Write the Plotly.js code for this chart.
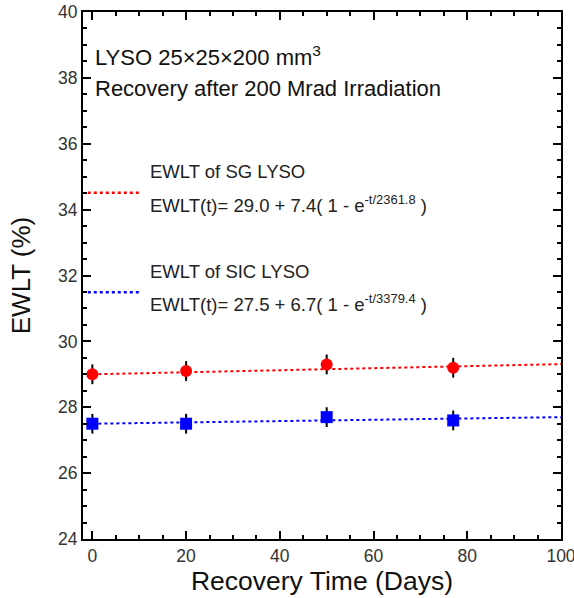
<!DOCTYPE html>
<html><head><meta charset="utf-8">
<script src="https://cdn.plot.ly/plotly-3.0.1.min.js"></script>
<style>html,body{margin:0;padding:0;background:#fff}</style>
</head><body><div id="chart" style="width:574px;height:598px"></div>
<script>
const days = [0, 20, 50, 77];
const sgEWLT = [29.0, 29.1, 29.3, 29.2];
const sgErr = [0.3, 0.3, 0.3, 0.3];
const sicEWLT = [27.5, 27.5, 27.7, 27.6];
const sicErr = [0.3, 0.3, 0.3, 0.3];
const fitDays = [0, 100];
const sgFit = [29.0, 29.31];
const sicFit = [27.5, 27.7];

const font = 'Arial, "Liberation Sans", sans-serif';
const traces = [
  {x: fitDays, y: sgFit, mode: 'lines', line: {color: '#ff0000', dash: 'dot', width: 2}, hoverinfo: 'skip'},
  {x: fitDays, y: sicFit, mode: 'lines', line: {color: '#0000ff', dash: 'dot', width: 2}, hoverinfo: 'skip'},
  {x: days, y: sgEWLT, mode: 'markers', marker: {symbol: 'circle', size: 12, color: '#ff0000'},
   error_y: {type: 'data', array: sgErr, color: '#000', thickness: 2, width: 0}},
  {x: days, y: sicEWLT, mode: 'markers', marker: {symbol: 'square', size: 12, color: '#0000ff'},
   error_y: {type: 'data', array: sicErr, color: '#000', thickness: 2, width: 0}}
];
const axisCommon = {
  showgrid: false, zeroline: false, showline: true, linecolor: '#000', linewidth: 2,
  mirror: 'ticks', ticks: 'inside', ticklen: 8, tickwidth: 2, tickcolor: '#000',
  ticklabeloverflow: 'allow',
  tickfont: {family: font, size: 17.5, color: '#333'}
};
const layout = {
  width: 574, height: 598,
  margin: {l: 83, r: 13, t: 12, b: 59},
  showlegend: false,
  paper_bgcolor: '#fff', plot_bgcolor: '#fff',
  xaxis: Object.assign({}, axisCommon, {
    range: [-2, 100], tickvals: [0, 20, 40, 60, 80, 100],
    minor: {dtick: 5, tick0: 0, ticks: 'inside', ticklen: 4, tickwidth: 2, tickcolor: '#000'},
    title: {text: 'Recovery Time (Days)', font: {family: font, size: 26.5, color: '#111'}, standoff: 6}
  }),
  yaxis: Object.assign({}, axisCommon, {
    range: [24, 40], tickvals: [24, 26, 28, 30, 32, 34, 36, 38, 40],
    minor: {dtick: 0.5, tick0: 24, ticks: 'inside', ticklen: 4, tickwidth: 2, tickcolor: '#000'},
    title: {text: 'EWLT (%)', font: {family: font, size: 26, color: '#111'}, standoff: 20}
  }),
  shapes: [
    {type: 'line', xref: 'paper', yref: 'paper', x0: 0.01, x1: 0.12, y0: 0.657, y1: 0.657, line: {color: '#ff0000', dash: 'dot', width: 2.5}},
    {type: 'line', xref: 'paper', yref: 'paper', x0: 0.01, x1: 0.12, y0: 0.468, y1: 0.468, line: {color: '#0000ff', dash: 'dot', width: 2.5}}
  ],
  annotations: [
    {xref: 'paper', yref: 'paper', x: 0.02, y: 0.917, xanchor: 'left', yanchor: 'middle', showarrow: false,
     text: 'LYSO 25×25×200 mm<sup>3</sup>', font: {family: font, size: 22, color: '#111'}},
    {xref: 'paper', yref: 'paper', x: 0.02, y: 0.855, xanchor: 'left', yanchor: 'middle', showarrow: false,
     text: 'Recovery after 200 Mrad Irradiation', font: {family: font, size: 22, color: '#111'}},
    {xref: 'paper', yref: 'paper', x: 0.136, y: 0.697, xanchor: 'left', yanchor: 'middle', showarrow: false,
     text: 'EWLT of SG LYSO', font: {family: font, size: 18.5, color: '#222'}},
    {xref: 'paper', yref: 'paper', x: 0.136, y: 0.635, xanchor: 'left', yanchor: 'middle', showarrow: false,
     text: 'EWLT(t)= 29.0 + 7.4( 1 - e<sup>-t/2361.8</sup> )', font: {family: font, size: 18.5, color: '#222'}},
    {xref: 'paper', yref: 'paper', x: 0.136, y: 0.507, xanchor: 'left', yanchor: 'middle', showarrow: false,
     text: 'EWLT of SIC LYSO', font: {family: font, size: 18.5, color: '#222'}},
    {xref: 'paper', yref: 'paper', x: 0.136, y: 0.447, xanchor: 'left', yanchor: 'middle', showarrow: false,
     text: 'EWLT(t)= 27.5 + 6.7( 1 - e<sup>-t/3379.4</sup> )', font: {family: font, size: 18.5, color: '#222'}}
  ]
};
Plotly.newPlot('chart', traces, layout, {displayModeBar: false, staticPlot: true});
</script></body></html>
